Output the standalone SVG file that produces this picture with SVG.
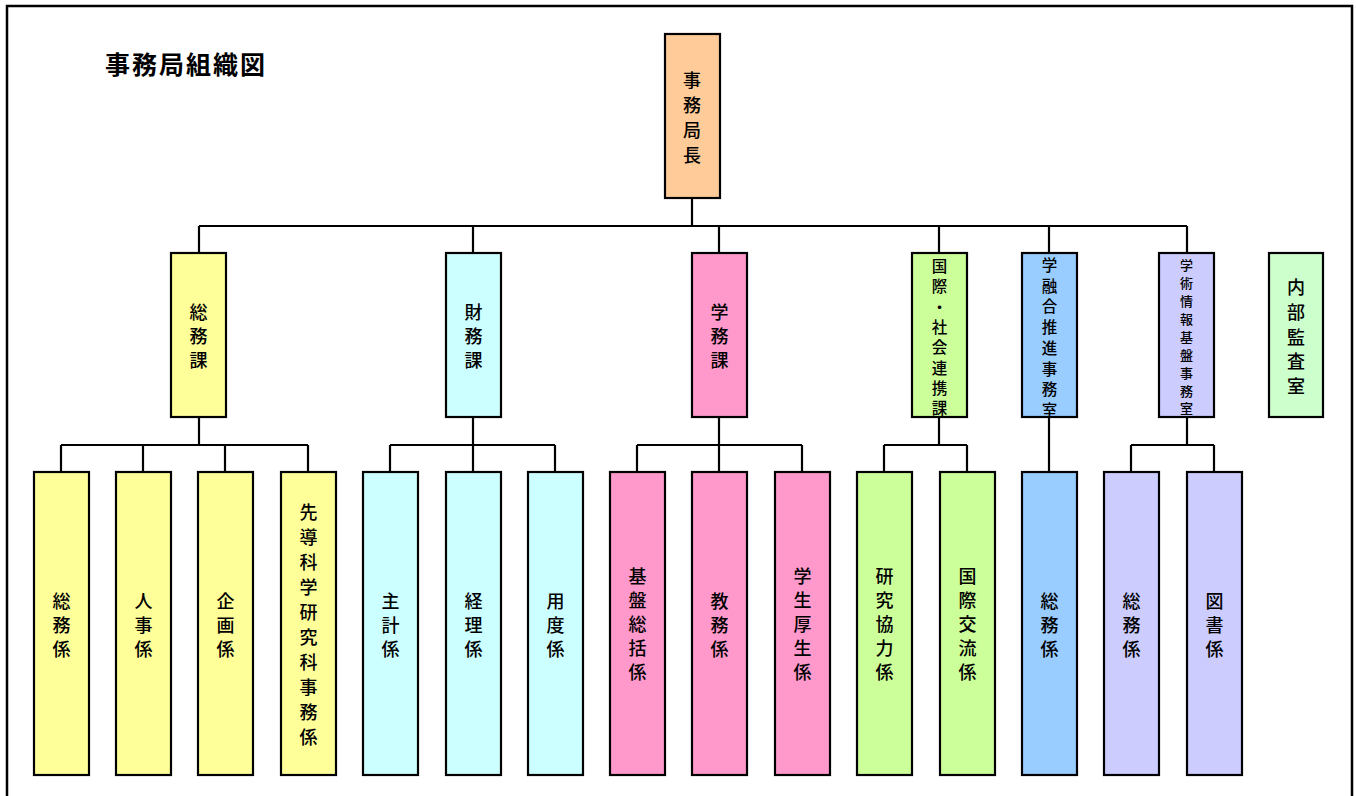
<svg xmlns="http://www.w3.org/2000/svg" width="1356" height="796" viewBox="0 0 1356 796">
  <style>
    .box { stroke: #000; stroke-width: 2.2; }
    .c-or { fill: #FFCC99; }
    .c-ye { fill: #FFFF99; }
    .c-cy { fill: #CCFFFF; }
    .c-pk { fill: #FF99CC; }
    .c-gr { fill: #CCFF99; }
    .c-bl { fill: #99CCFF; }
    .c-lv { fill: #CCCCFF; }
    .c-lg { fill: #CCFFCC; }
    .lbl { font-family: "Noto Sans CJK JP", "Noto Sans", sans-serif; font-weight: 500; fill: #000; text-anchor: middle; dominant-baseline: central; }
    .f17 { font-size: 18px; }
    .f15 { font-size: 15.5px; }
    .f12 { font-size: 13px; }
    .f18 { font-size: 18px; }
    .wire { fill: none; stroke: #000; stroke-width: 2.2; }
    .frame { fill: none; stroke: #000; stroke-width: 2.5; }
  </style>

  <rect width="1356" height="796" fill="#fff"/>
  <path class="frame" d="M7,796 V6 H1352 V796"/>

  <text x="105" y="63" font-family="'Noto Sans CJK JP', sans-serif" font-size="25" font-weight="bold" letter-spacing="2" dominant-baseline="central" fill="#000">事務局組織図</text>

  <!-- connectors -->
  <g id="connectors">
    <path class="wire" d="M692,198 V226 M199,226 H1187 M199,226 V253 M473,226 V253 M719,226 V253 M939,226 V253 M1049,226 V253 M1187,226 V253"/>
    <path class="wire" d="M199,417 V445 M61,445 H308 M61,445 V472 M143,445 V472 M225,445 V472 M308,445 V472"/>
    <path class="wire" d="M473,417 V445 M390,445 H555 M390,445 V472 M473,445 V472 M555,445 V472"/>
    <path class="wire" d="M719,417 V445 M637,445 H802 M637,445 V472 M719,445 V472 M802,445 V472"/>
    <path class="wire" d="M939,417 V445 M884,445 H967 M884,445 V472 M967,445 V472"/>
    <path class="wire" d="M1049,417 V472"/>
    <path class="wire" d="M1187,417 V445 M1131,445 H1214 M1131,445 V472 M1214,445 V472"/>
  </g>

  <!-- head -->
  <g id="n-head">
    <rect class="box c-or" x="665" y="34" width="55" height="164"/>
    <text class="lbl f17"><tspan x="692" y="79">事</tspan><tspan x="692" y="104">務</tspan><tspan x="692" y="129">局</tspan><tspan x="692" y="154">長</tspan></text>
  </g>

  <!-- divisions -->
  <g id="n-soumuka">
    <rect class="box c-ye" x="171" y="253" width="55" height="164"/>
    <text class="lbl f17"><tspan x="198.5" y="311">総</tspan><tspan x="198.5" y="335">務</tspan><tspan x="198.5" y="359">課</tspan></text>
  </g>
  <g id="n-zaimuka">
    <rect class="box c-cy" x="446" y="253" width="55" height="164"/>
    <text class="lbl f17"><tspan x="473.5" y="311">財</tspan><tspan x="473.5" y="335">務</tspan><tspan x="473.5" y="359">課</tspan></text>
  </g>
  <g id="n-gakumuka">
    <rect class="box c-pk" x="692" y="253" width="55" height="164"/>
    <text class="lbl f17"><tspan x="719.5" y="311">学</tspan><tspan x="719.5" y="335">務</tspan><tspan x="719.5" y="359">課</tspan></text>
  </g>
  <g id="n-kokusai">
    <rect class="box c-gr" x="912" y="253" width="55" height="164"/>
    <text class="lbl f15"><tspan x="939.5" y="265">国</tspan><tspan x="939.5" y="285.3">際</tspan><tspan x="939.5" y="305.6">・</tspan><tspan x="939.5" y="325.9">社</tspan><tspan x="939.5" y="346.2">会</tspan><tspan x="939.5" y="366.5">連</tspan><tspan x="939.5" y="386.8">携</tspan><tspan x="939.5" y="407">課</tspan></text>
  </g>
  <g id="n-yugo">
    <rect class="box c-bl" x="1022" y="253" width="55" height="164"/>
    <text class="lbl f15"><tspan x="1049.5" y="264">学</tspan><tspan x="1049.5" y="284.7">融</tspan><tspan x="1049.5" y="305.4">合</tspan><tspan x="1049.5" y="326.1">推</tspan><tspan x="1049.5" y="346.8">進</tspan><tspan x="1049.5" y="367.5">事</tspan><tspan x="1049.5" y="388.2">務</tspan><tspan x="1049.5" y="409">室</tspan></text>
  </g>
  <g id="n-jouhou">
    <rect class="box c-lv" x="1159" y="253" width="55" height="164"/>
    <text class="lbl f12"><tspan x="1186.5" y="264">学</tspan><tspan x="1186.5" y="282">術</tspan><tspan x="1186.5" y="300">情</tspan><tspan x="1186.5" y="318">報</tspan><tspan x="1186.5" y="336">基</tspan><tspan x="1186.5" y="354">盤</tspan><tspan x="1186.5" y="372">事</tspan><tspan x="1186.5" y="390">務</tspan><tspan x="1186.5" y="407">室</tspan></text>
  </g>
  <g id="n-kansa">
    <rect class="box c-lg" x="1269" y="253" width="54" height="164"/>
    <text class="lbl f18"><tspan x="1296" y="286">内</tspan><tspan x="1296" y="310.75">部</tspan><tspan x="1296" y="335.5">監</tspan><tspan x="1296" y="360.25">査</tspan><tspan x="1296" y="385">室</tspan></text>
  </g>

  <!-- sections -->
  <g id="n-soumu-kakari">
    <rect class="box c-ye" x="34" y="472" width="55" height="303"/>
    <text class="lbl f17"><tspan x="61.5" y="599.5">総</tspan><tspan x="61.5" y="623.5">務</tspan><tspan x="61.5" y="647.5">係</tspan></text>
  </g>
  <g id="n-jinji">
    <rect class="box c-ye" x="116" y="472" width="55" height="303"/>
    <text class="lbl f17"><tspan x="143.5" y="599.5">人</tspan><tspan x="143.5" y="623.5">事</tspan><tspan x="143.5" y="647.5">係</tspan></text>
  </g>
  <g id="n-kikaku">
    <rect class="box c-ye" x="198" y="472" width="55" height="303"/>
    <text class="lbl f17"><tspan x="225.5" y="599.5">企</tspan><tspan x="225.5" y="623.5">画</tspan><tspan x="225.5" y="647.5">係</tspan></text>
  </g>
  <g id="n-sendou">
    <rect class="box c-ye" x="281" y="472" width="55" height="303"/>
    <text class="lbl f17"><tspan x="308.5" y="511">先</tspan><tspan x="308.5" y="536">導</tspan><tspan x="308.5" y="561">科</tspan><tspan x="308.5" y="586">学</tspan><tspan x="308.5" y="611">研</tspan><tspan x="308.5" y="636">究</tspan><tspan x="308.5" y="661">科</tspan><tspan x="308.5" y="686">事</tspan><tspan x="308.5" y="711">務</tspan><tspan x="308.5" y="736">係</tspan></text>
  </g>
  <g id="n-shukei">
    <rect class="box c-cy" x="363" y="472" width="55" height="303"/>
    <text class="lbl f17"><tspan x="390.5" y="599.5">主</tspan><tspan x="390.5" y="623.5">計</tspan><tspan x="390.5" y="647.5">係</tspan></text>
  </g>
  <g id="n-keiri">
    <rect class="box c-cy" x="446" y="472" width="55" height="303"/>
    <text class="lbl f17"><tspan x="473.5" y="599.5">経</tspan><tspan x="473.5" y="623.5">理</tspan><tspan x="473.5" y="647.5">係</tspan></text>
  </g>
  <g id="n-youdo">
    <rect class="box c-cy" x="528" y="472" width="55" height="303"/>
    <text class="lbl f17"><tspan x="555.5" y="599.5">用</tspan><tspan x="555.5" y="623.5">度</tspan><tspan x="555.5" y="647.5">係</tspan></text>
  </g>
  <g id="n-kiban">
    <rect class="box c-pk" x="610" y="472" width="55" height="303"/>
    <text class="lbl f17"><tspan x="637.5" y="575">基</tspan><tspan x="637.5" y="599">盤</tspan><tspan x="637.5" y="623">総</tspan><tspan x="637.5" y="647">括</tspan><tspan x="637.5" y="671">係</tspan></text>
  </g>
  <g id="n-kyoumu">
    <rect class="box c-pk" x="692" y="472" width="55" height="303"/>
    <text class="lbl f17"><tspan x="719.5" y="599.5">教</tspan><tspan x="719.5" y="623.5">務</tspan><tspan x="719.5" y="647.5">係</tspan></text>
  </g>
  <g id="n-kousei">
    <rect class="box c-pk" x="775" y="472" width="55" height="303"/>
    <text class="lbl f17"><tspan x="802.5" y="575">学</tspan><tspan x="802.5" y="599">生</tspan><tspan x="802.5" y="623">厚</tspan><tspan x="802.5" y="647">生</tspan><tspan x="802.5" y="671">係</tspan></text>
  </g>
  <g id="n-kenkyu">
    <rect class="box c-gr" x="857" y="472" width="55" height="303"/>
    <text class="lbl f17"><tspan x="884.5" y="575">研</tspan><tspan x="884.5" y="599">究</tspan><tspan x="884.5" y="623">協</tspan><tspan x="884.5" y="647">力</tspan><tspan x="884.5" y="671">係</tspan></text>
  </g>
  <g id="n-kouryu">
    <rect class="box c-gr" x="940" y="472" width="55" height="303"/>
    <text class="lbl f17"><tspan x="967.5" y="575">国</tspan><tspan x="967.5" y="599">際</tspan><tspan x="967.5" y="623">交</tspan><tspan x="967.5" y="647">流</tspan><tspan x="967.5" y="671">係</tspan></text>
  </g>
  <g id="n-yugo-soumu">
    <rect class="box c-bl" x="1022" y="472" width="55" height="303"/>
    <text class="lbl f17"><tspan x="1049.5" y="599.5">総</tspan><tspan x="1049.5" y="623.5">務</tspan><tspan x="1049.5" y="647.5">係</tspan></text>
  </g>
  <g id="n-jouhou-soumu">
    <rect class="box c-lv" x="1104" y="472" width="55" height="303"/>
    <text class="lbl f17"><tspan x="1131.5" y="599.5">総</tspan><tspan x="1131.5" y="623.5">務</tspan><tspan x="1131.5" y="647.5">係</tspan></text>
  </g>
  <g id="n-tosho">
    <rect class="box c-lv" x="1187" y="472" width="55" height="303"/>
    <text class="lbl f17"><tspan x="1214.5" y="599.5">図</tspan><tspan x="1214.5" y="623.5">書</tspan><tspan x="1214.5" y="647.5">係</tspan></text>
  </g>
</svg>
